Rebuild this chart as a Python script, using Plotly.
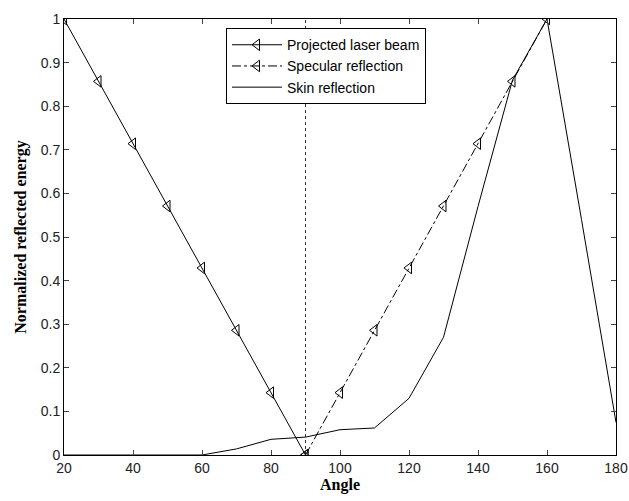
import plotly.graph_objects as go

# Data
angles_laser = [20, 30, 40, 50, 60, 70, 80, 90]
laser_vals = [1.0, 0.857, 0.714, 0.571, 0.429, 0.286, 0.143, 0.0]

angles_spec = [90, 100, 110, 120, 130, 140, 150, 160]
spec_vals = [0.0, 0.143, 0.286, 0.429, 0.571, 0.714, 0.857, 1.0]

angles_skin = [20, 30, 40, 50, 60, 70, 80, 90, 100, 110, 120, 130, 140, 150, 160, 170, 180]
skin_vals = [0.0, 0.0, 0.0, 0.0, 0.0, 0.014, 0.036, 0.041, 0.058, 0.062, 0.13, 0.27, 0.57, 0.86, 1.0, 0.54, 0.075]

normal_angle = [90, 90]
normal_vals = [0, 1]

x_ticks = [20, 40, 60, 80, 100, 120, 140, 160, 180]
y_ticks = [0, 0.1, 0.2, 0.3, 0.4, 0.5, 0.6, 0.7, 0.8, 0.9, 1]
y_tick_text = ["0", "0.1", "0.2", "0.3", "0.4", "0.5", "0.6", "0.7", "0.8", "0.9", "1"]

fig = go.Figure()

fig.add_trace(go.Scatter(
    x=normal_angle, y=normal_vals, mode="lines",
    line=dict(color="#333", width=1, dash="dot"), showlegend=False, hoverinfo="skip"))

fig.add_trace(go.Scatter(
    x=angles_laser, y=laser_vals, mode="lines+markers", name="Projected laser beam",
    line=dict(color="black", width=1),
    marker=dict(symbol="triangle-left-open", size=10, color="black", line=dict(width=1))))

fig.add_trace(go.Scatter(
    x=angles_spec, y=spec_vals, mode="lines+markers", name="Specular reflection",
    line=dict(color="black", width=1, dash="dashdot"),
    marker=dict(symbol="triangle-left-open", size=10, color="black", line=dict(width=1))))

fig.add_trace(go.Scatter(
    x=angles_skin, y=skin_vals, mode="lines", name="Skin reflection",
    line=dict(color="black", width=1)))

axis_font = dict(family="Liberation Sans, Arial, sans-serif", size=14, color="#222")
title_font = dict(family="Liberation Serif, Times New Roman, serif", size=16, color="black")

fig.update_layout(
    width=629, height=501,
    margin=dict(l=64, r=13, t=19, b=46),
    paper_bgcolor="white", plot_bgcolor="white",
    legend=dict(
        x=0.2935, y=0.979, xanchor="left", yanchor="top",
        bgcolor="white", bordercolor="black", borderwidth=1,
        font=dict(family="Liberation Sans, Arial, sans-serif", size=14, color="black"),
        tracegroupgap=0, itemwidth=50),
    xaxis=dict(
        range=[20, 180], tickvals=x_ticks, ticks="inside", ticklen=5,
        showline=True, linecolor="black", linewidth=1, mirror="ticks",
        showgrid=False, zeroline=False, tickfont=axis_font, automargin=False,
        title=dict(text="<b>Angle</b>", font=title_font, standoff=4)),
    yaxis=dict(
        range=[0, 1], tickvals=y_ticks, ticktext=y_tick_text, ticks="inside", ticklen=5,
        showline=True, linecolor="black", linewidth=1, mirror="ticks",
        showgrid=False, zeroline=False, tickfont=axis_font, automargin=False,
        title=dict(text="<b>Normalized reflected energy</b>", font=title_font, standoff=10)),
)

fig.write_html("out.html", config={"displayModeBar": False},
               post_script="document.body.style.margin='0';")
